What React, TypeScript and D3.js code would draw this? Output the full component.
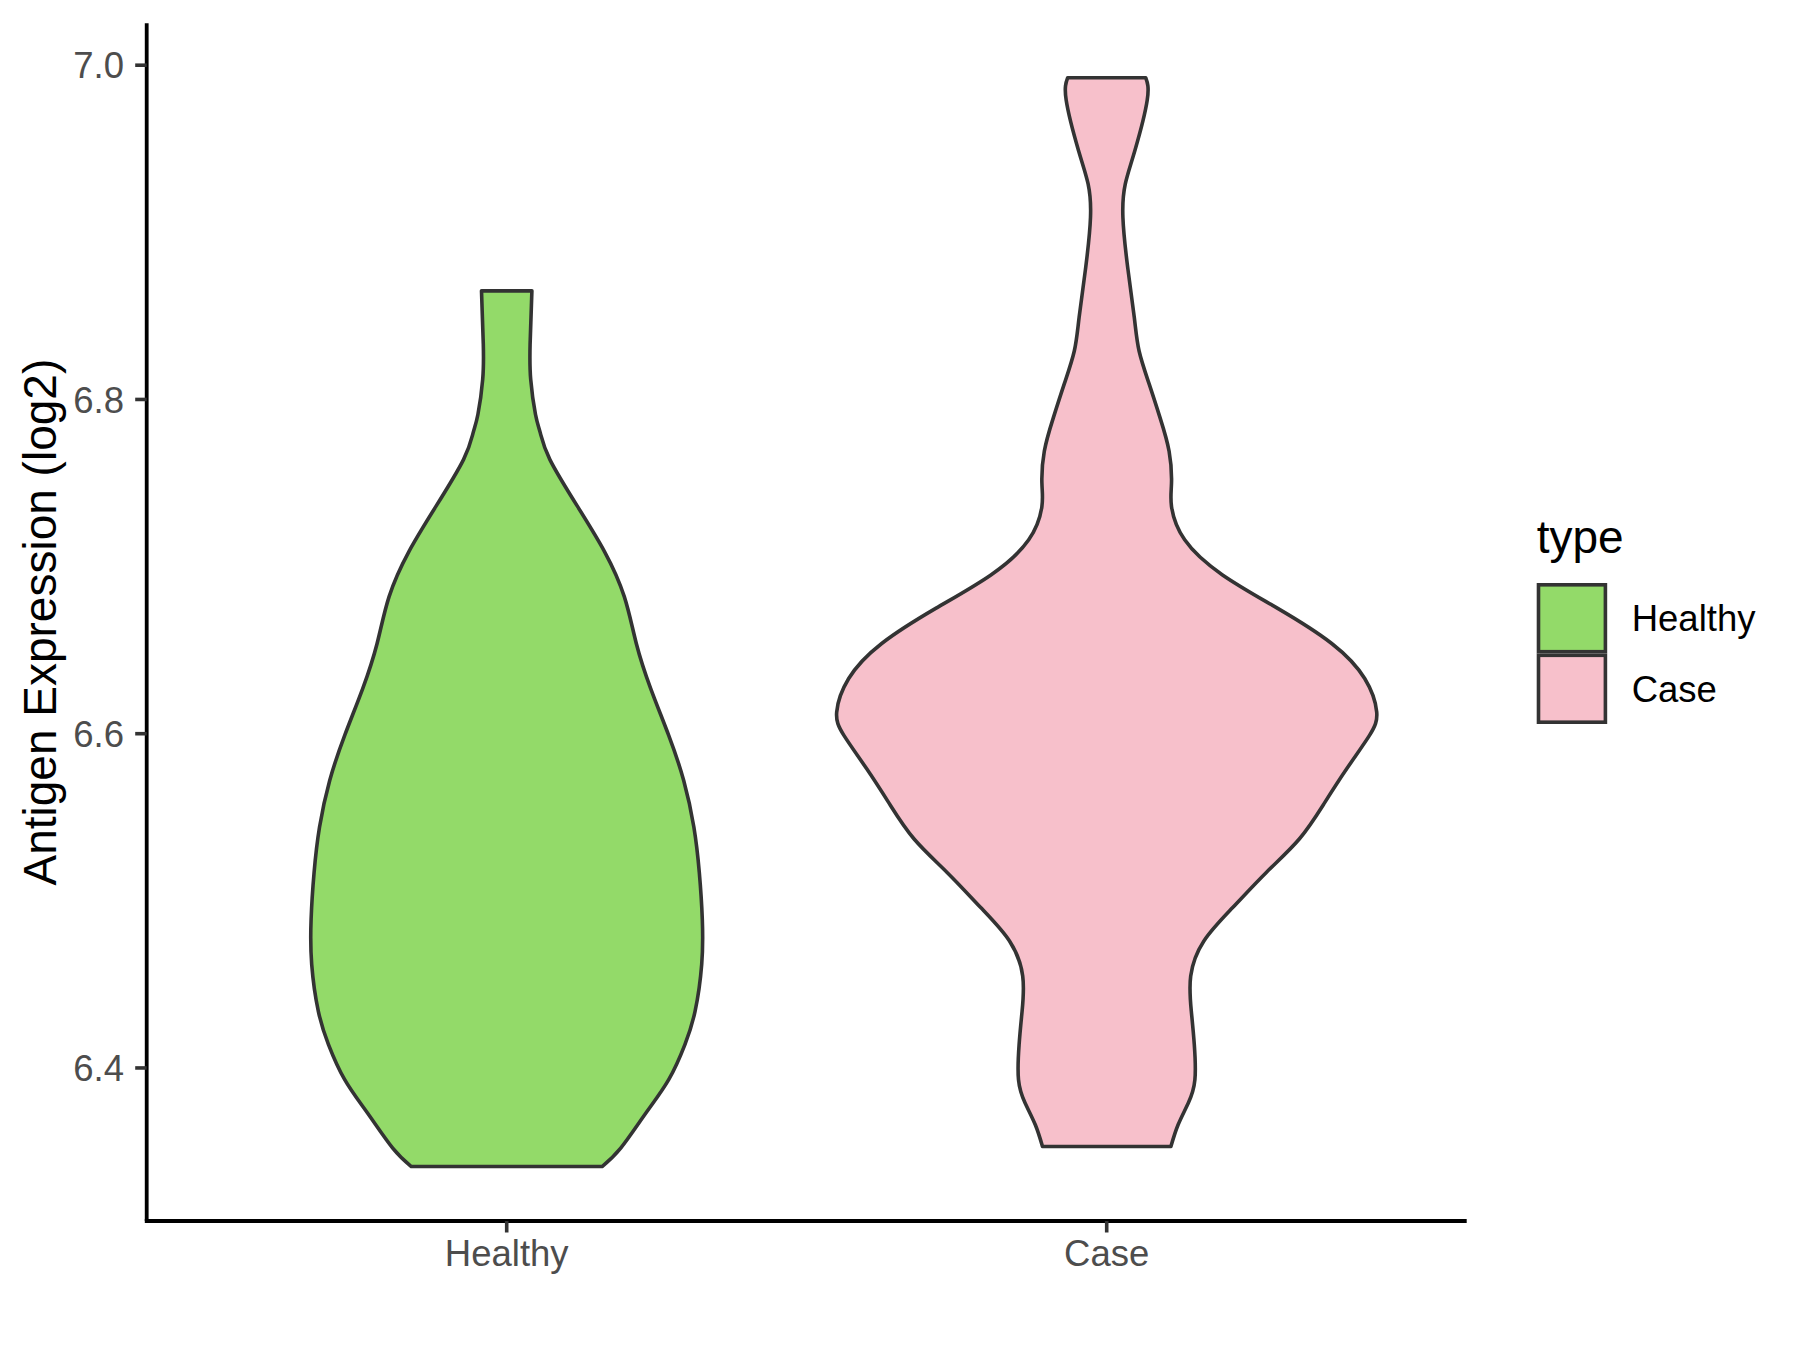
import React from "react";
import * as d3 from "d3";

const categories = ["Healthy", "Case"];
const fillColors = ["#93DA69", "#F7C0CB"];

// violin outline: value (log2) and half-width (fraction of category step)
const healthyValues = [6.341, 6.352, 6.373, 6.393, 6.414, 6.434, 6.462, 6.489, 6.517, 6.544, 6.572, 6.599, 6.627, 6.654, 6.682, 6.709, 6.736, 6.764, 6.78, 6.791, 6.812, 6.833, 6.865];
const healthyWidths = [0.159, 0.19, 0.232, 0.27, 0.297, 0.314, 0.325, 0.326, 0.321, 0.312, 0.295, 0.27, 0.24, 0.216, 0.196, 0.163, 0.118, 0.072, 0.056, 0.048, 0.04, 0.039, 0.042];

const caseValues = [6.353, 6.366, 6.379, 6.393, 6.414, 6.434, 6.455, 6.476, 6.496, 6.517, 6.537, 6.558, 6.579, 6.599, 6.613, 6.633, 6.654, 6.675, 6.695, 6.716, 6.736, 6.75, 6.769, 6.789, 6.809, 6.829, 6.849, 6.879, 6.909, 6.929, 6.949, 6.979, 6.9925];
const caseWidths = [0.107, 0.119, 0.136, 0.147, 0.146, 0.141, 0.14, 0.162, 0.21, 0.266, 0.321, 0.362, 0.4, 0.438, 0.45, 0.43, 0.375, 0.285, 0.193, 0.13, 0.108, 0.108, 0.104, 0.089, 0.071, 0.054, 0.046, 0.035, 0.027, 0.031, 0.047, 0.0675, 0.065];

const yTicks = [6.4, 6.6, 6.8, 7.0];
const yTitle = "Antigen Expression (log2)";
const legendTitle = "type";

const W = 1800;
const H = 1350;
const panel = { left: 146.7, right: 1466.7, top: 23.3, bottom: 1221 };
const FONT = "'Liberation Sans', Arial, Helvetica, sans-serif";

export default function App() {
  const allV = [...healthyValues, ...caseValues];
  const vmin = d3.min(allV) as number;
  const vmax = d3.max(allV) as number;
  const pad = (vmax - vmin) * 0.05;
  const y = d3.scaleLinear().domain([vmin - pad, vmax + pad]).range([panel.bottom, panel.top]);
  const x = d3.scalePoint<string>().domain(categories).range([panel.left, panel.right]).padding(0.6);
  const step = x.step();

  const series = [
    { name: "Healthy", values: healthyValues, widths: healthyWidths },
    { name: "Case", values: caseValues, widths: caseWidths },
  ];

  const paths = series.map((s, i) => {
    const cx = x(s.name) as number;
    const pts = s.values.map((v, k) => ({ v, w: s.widths[k] }));
    const area = d3
      .area<{ v: number; w: number }>()
      .y((d) => y(d.v))
      .x0((d) => cx - d.w * step)
      .x1((d) => cx + d.w * step)
      .curve(d3.curveNatural);
    return { d: area(pts) as string, fill: fillColors[i] };
  });

  const legendX = 1536.7;
  const keySize = 70.5;
  const keyTop = 583;

  return (
    <svg
      width={W}
      height={H}
      style={{ position: "absolute", left: 0, top: 0, display: "block", background: "#fff" }}
      fontFamily={FONT}
    >
      <rect x={0} y={0} width={W} height={H} fill="#fff" />
      {paths.map((p, i) => (
        <path key={i} d={p.d} fill={p.fill} stroke="#333333" strokeWidth={3.6} strokeLinejoin="round" />
      ))}

      {/* y axis */}
      <line x1={panel.left} x2={panel.left} y1={panel.top} y2={panel.bottom} stroke="#000" strokeWidth={3.8} />
      {yTicks.map((t) => (
        <g key={t}>
          <line x1={panel.left - 11.5} x2={panel.left} y1={y(t)} y2={y(t)} stroke="#333333" strokeWidth={3.6} />
          <text x={124} y={y(t)} dy="0.36em" textAnchor="end" fontSize={36.5} fill="#4D4D4D">
            {t.toFixed(1)}
          </text>
        </g>
      ))}

      {/* x axis */}
      <line x1={panel.left - 1.9} x2={panel.right} y1={panel.bottom} y2={panel.bottom} stroke="#000" strokeWidth={3.8} />
      {categories.map((c) => (
        <g key={c}>
          <line x1={x(c)} x2={x(c)} y1={panel.bottom} y2={panel.bottom + 11.5} stroke="#333333" strokeWidth={3.6} />
          <text x={x(c)} y={1266} textAnchor="middle" fontSize={36.5} fill="#4D4D4D">
            {c}
          </text>
        </g>
      ))}

      {/* y title */}
      <text
        transform={`translate(56,${(panel.top + panel.bottom) / 2}) rotate(-90)`}
        textAnchor="middle"
        fontSize={46}
        fill="#000"
      >
        {yTitle}
      </text>

      {/* legend */}
      <text x={legendX} y={553} fontSize={46} fill="#000">
        {legendTitle}
      </text>
      {categories.map((c, i) => (
        <g key={c}>
          <rect
            x={legendX + 1.8}
            y={keyTop + i * keySize + 1.8}
            width={keySize - 3.6}
            height={keySize - 3.6}
            fill={fillColors[i]}
            stroke="#333333"
            strokeWidth={3.6}
          />
          <text x={1631.7} y={keyTop + i * keySize + keySize / 2} dy="0.36em" fontSize={36.5} fill="#000">
            {c}
          </text>
        </g>
      ))}
    </svg>
  );
}
